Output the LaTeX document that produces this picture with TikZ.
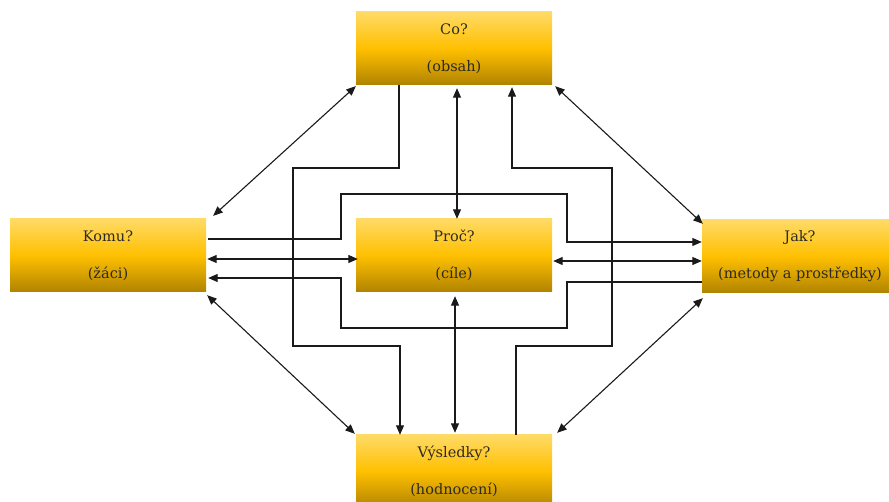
\documentclass[tikz,border=0pt]{standalone}
\usepackage{fontspec}
\setmainfont{DejaVu Serif}
\usetikzlibrary{arrows.meta}
\definecolor{ytop}{HTML}{FFDA66}
\definecolor{ymid}{HTML}{FFC000}
\definecolor{ybot}{HTML}{B08300}
\definecolor{txt}{HTML}{2E2A25}
\definecolor{lc}{HTML}{1A1A1A}
\begin{document}
\begin{tikzpicture}[x=1pt,y=-1pt,
  box/.style={inner sep=0pt, minimum width=196pt, minimum height=73pt,
    top color=ytop, bottom color=ybot, middle color=ymid,
    text=txt, font=\fontsize{14.5}{37}\selectfont, align=center},
  conn/.style={draw=lc, line width=1.1pt},
  tip/.tip={Triangle[length=9.5pt,width=8pt]},
  dbl/.style={conn, tip-tip},
  one/.style={conn, -tip}]
\useasboundingbox (0,0) rectangle (889,502);

\node[box] (co)   at (454,48.5)  {Co?\\(obsah)};
\node[box] (komu) at (108,255.5) {Komu?\\(žáci)};
\node[box] (proc) at (454,255.5) {Proč?\\(cíle)};
\node[box] (jak)  at (800,256.5) {Jak?\\(metody a prostředky)};
\node[box] (vys)  at (454,471.5) {Výsledky?\\(hodnocení)};

% diagonals
\draw[dbl] ([xshift=7pt,yshift=3pt]komu.north east) -- ([yshift=-1pt]co.south west);
\draw[dbl] ([xshift=3pt,yshift=-1pt]co.south east) -- ([xshift=1pt,yshift=-4pt]jak.north west);
\draw[dbl] ([xshift=1pt,yshift=-3pt]komu.south east) -- ([xshift=-1pt,yshift=1pt]vys.north west);
\draw[dbl] ([xshift=1pt,yshift=-5pt]jak.south west) -- ([xshift=5pt,yshift=2pt]vys.north east);

% verticals and horizontals through the centre
\draw[dbl] ([xshift=3pt,yshift=-3pt]co.south) -- ([xshift=3pt]proc.north);
\draw[dbl] ([xshift=1pt,yshift=-4pt]proc.south) -- ([xshift=1pt,yshift=2pt]vys.north);
\draw[dbl] ([xshift=1pt,yshift=-3.5pt]komu.east) -- ([xshift=2pt,yshift=-3.5pt]proc.west);
\draw[dbl] ([xshift=1pt,yshift=-5.5pt]proc.east) -- ([yshift=-4.5pt]jak.west);

% stepped connectors
\draw[one] ([xshift=2pt,yshift=16.5pt]komu.east) -| (341,194) -| (567,242) -- ([yshift=14.5pt]jak.west);
\draw[one] ([yshift=-25.5pt]jak.west) -| (567,328) -| (341,278) -- ([xshift=2pt,yshift=-22.5pt]komu.east);
\draw[one] ([xshift=-55pt]co.south) |- (293,168) |- (400,346) -- ([xshift=-54pt]vys.north);
\draw[one] ([xshift=62pt]vys.north) |- (612,346) |- (512,168) -- ([xshift=58pt,yshift=-2pt]co.south);
\end{tikzpicture}
\end{document}
